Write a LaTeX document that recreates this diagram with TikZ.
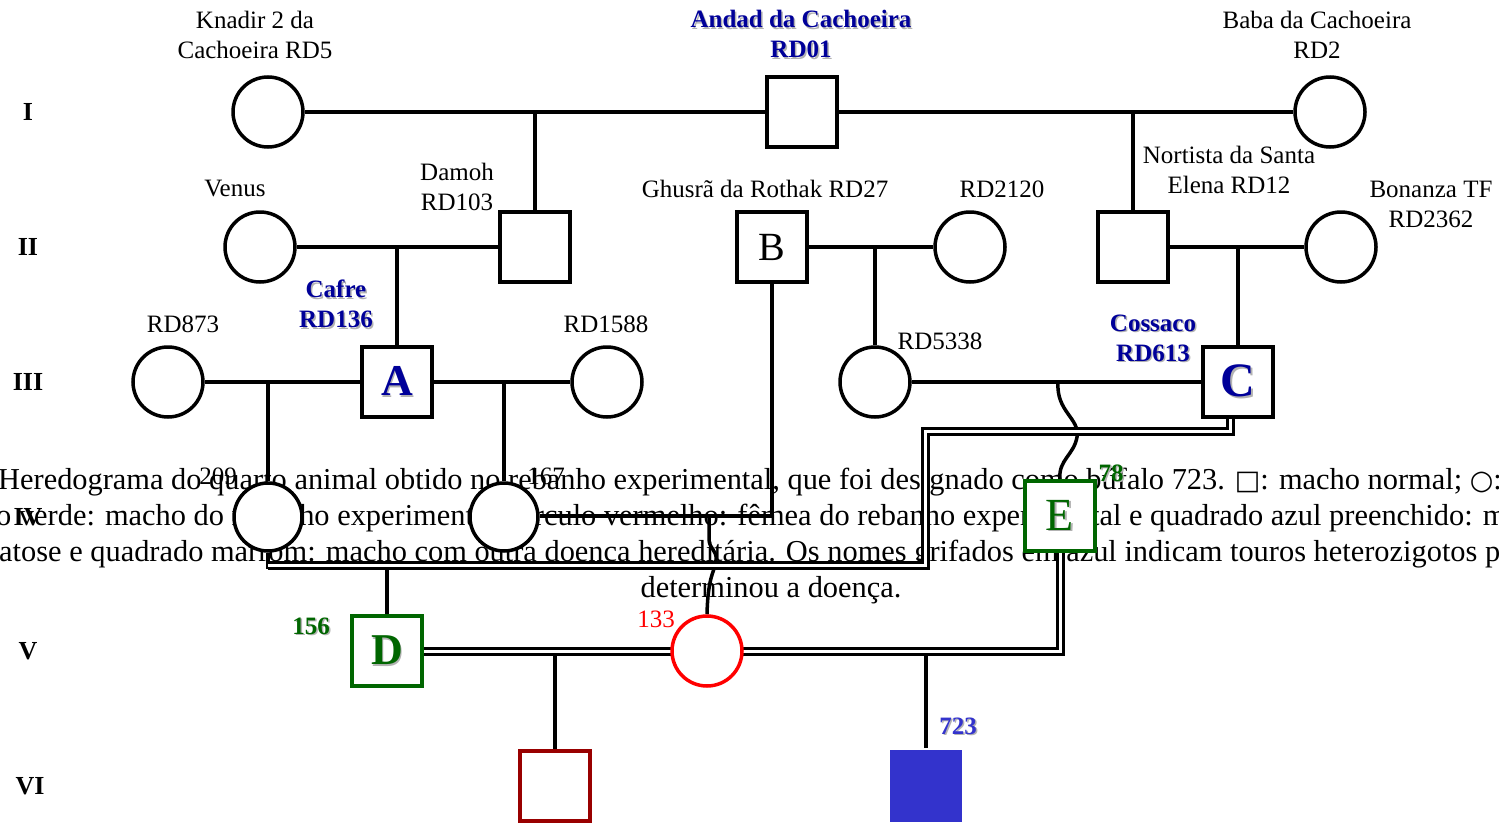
\documentclass[tikz,border=0pt]{standalone}
\usepackage{fontspec}
\setmainfont{Liberation Serif}
\newfontfamily\symfnt{DejaVu Sans}
\usetikzlibrary{calc}
\definecolor{navy}{RGB}{0,0,153}
\definecolor{blueff}{RGB}{51,51,204}
\definecolor{grn}{RGB}{0,102,0}
\definecolor{dred}{RGB}{153,0,0}
\newcommand{\shtxt}[1]{\leavevmode\rlap{\kern1.5pt\raisebox{-1.5pt}{\textcolor{black!30}{#1}}}#1}
\pgfdeclarelayer{captlayer}
\pgfdeclarelayer{bglayer}
\pgfsetlayers{captlayer,bglayer,main}
\begin{document}
\begin{tikzpicture}[x=1pt,y=-1pt,
  conn/.style={line width=3.5pt},
  dblline/.style={line width=3pt, double, double distance=3pt},
  sqnode/.style={draw, line width=3.5pt, minimum size=70pt, fill=white, inner sep=0pt},
  cinode/.style={draw, circle, line width=3.5pt, minimum size=70pt, fill=white, inner sep=0pt},
  lbl/.style={font=\fontsize{25}{30}\selectfont, align=center, inner sep=0pt},
  blbl/.style={font=\fontsize{25}{30}\selectfont\bfseries, align=center, inner sep=0pt},
  genlbl/.style={font=\fontsize{26}{30}\selectfont\bfseries, inner sep=0pt},
  captxt/.style={font=\fontsize{30.4}{36}\selectfont, inner sep=0pt, anchor=base west},
]
\useasboundingbox (0,0) rectangle (1499,822);

% caption (underneath everything)
\begin{pgfonlayer}{captlayer}
\node[captxt] (cap1) at (-2,489) {Heredograma do quarto animal obtido no rebanho experimental, que foi designado como búfalo 723. {\symfnt\fontsize{27}{30}\selectfont □}: macho normal; {\symfnt\fontsize{27}{30}\selectfont ○}: fêmea normal;};
\node[captxt] (cap2) at (-4,525) {o verde: macho do rebanho experimental; círculo vermelho: fêmea do rebanho experimental e quadrado azul preenchido: macho com};
\node[captxt] (cap3) at (-1,561) {atose e quadrado marrom: macho com outra doença hereditária. Os nomes grifados em azul indicam touros heterozigotos para o gene que};
\node[captxt, anchor=base] (cap4) at (771,597) {determinou a doença.};
\end{pgfonlayer}

% generation labels
\node[genlbl] (gI) at (28,112) {I};
\node[genlbl] (gII) at (28,247) {II};
\node[genlbl] (gIII) at (28,382) {III};
\node[genlbl] (gIV) at (28,517) {IV};
\node[genlbl] (gV) at (28,651) {V};
\node[genlbl] (gVI) at (30,786) {VI};

% individuals
\node[cinode] (knadir) at (268,112) {};
\node[sqnode] (andad) at (802,112) {};
\node[cinode] (baba) at (1330,112) {};
\node[cinode] (venus) at (260,247) {};
\node[sqnode] (damoh) at (535,247) {};
\node[sqnode, font=\fontsize{40}{40}\selectfont] (nB) at (772,247) {B};
\node[cinode] (rd2120) at (970,247) {};
\node[sqnode] (nortista) at (1133,247) {};
\node[cinode] (bonanza) at (1341,247) {};
\node[cinode] (rd873) at (168,382) {};
\node[sqnode, text=navy, font=\fontsize{44}{44}\selectfont\bfseries] (nA) at (397,382) {\shtxt{A}};
\node[cinode] (rd1588) at (607,382) {};
\node[cinode] (rd5338) at (875,382) {};
\node[sqnode, text=navy, font=\fontsize{48}{48}\selectfont\bfseries] (nC) at (1238,382) {\shtxt{C}};
\node[cinode, minimum size=68pt] (c209) at (268,517) {};
\node[cinode, minimum size=68pt] (c167) at (504,517) {};
\node[sqnode, draw=grn, text=grn, font=\fontsize{46}{46}\selectfont] (nE) at (1060,516) {\shtxt{E}};
\node[sqnode, draw=grn, text=grn, font=\fontsize{44}{44}\selectfont\bfseries] (nD) at (387,651) {\shtxt{D}};
\node[cinode, draw=red] (c133) at (707,651) {};
\node[sqnode, draw=dred] (rsq) at (555,786) {};
\node[sqnode, draw=none, fill=blueff, minimum size=72pt] (n723) at (926,786) {};

% name labels
\node[lbl] (tknadir) at (255,35) {Knadir 2 da\\Cachoeira RD5};
\node[blbl, text=navy] (tandad) at (801,35) {\shtxt{Andad da Cachoeira}\\\shtxt{RD01}};
\node[lbl] (tbaba) at (1317,35) {Baba da Cachoeira\\RD2};
\node[lbl] (tvenus) at (235,189) {Venus};
\node[lbl] (tdamoh) at (457,187) {Damoh\\RD103};
\node[lbl] (tghusra) at (765,189) {Ghusrã da Rothak RD27};
\node[lbl] (trd2120) at (1002,189) {RD2120};
\node[lbl] (tnortista) at (1229,170) {Nortista da Santa\\Elena RD12};
\node[lbl] (tbonanza) at (1431,204) {Bonanza TF\\RD2362};
\node[blbl, text=navy] (tcafre) at (336,305) {\shtxt{Cafre}\\\shtxt{RD136}};
\node[lbl] (trd873) at (183,324) {RD873};
\node[lbl] (trd1588) at (606,324) {RD1588};
\node[lbl] (trd5338) at (940,341) {RD5338};
\node[blbl, text=navy] (tcossaco) at (1153,339) {\shtxt{Cossaco}\\\shtxt{RD613}};
\node[lbl] (t209) at (218,476) {209};
\node[lbl] (t167) at (546,476) {167};
\node[blbl, text=grn] (t78) at (1111,474) {\shtxt{78}};
\node[blbl, text=grn] (t156) at (311,627) {\shtxt{156}};
\node[lbl, text=red] (t133) at (656,619) {133};
\node[blbl, text=blueff] (t723) at (958,727) {\shtxt{723}};

% junction points
\coordinate (k1) at (535,112);
\coordinate (k2) at (1133,112);
\coordinate (k3) at (397,247);
\coordinate (k4) at (875,247);
\coordinate (k5) at (1238,247);
\coordinate (k6) at (268,382);
\coordinate (k7) at (504,382);
\coordinate (k8) at (1058,382);
\coordinate (k9) at (772,516);
\coordinate (k10) at (709,516);
\coordinate (k11) at (387,569);
\coordinate (k12) at (555,656);
\coordinate (k13) at (926,656);
\coordinate (k14) at (268,565);

% connectors
\begin{pgfonlayer}{bglayer}
\draw[conn] (knadir) -- (andad);
\draw[conn] (andad) -- (baba);
\draw[conn] (k1) -- (damoh.north);
\draw[conn] (k2) -- (nortista.north);
\draw[conn] (venus) -- (damoh);
\draw[conn] (k3) -- (nA.north);
\draw[conn] (nB) -- (rd2120);
\draw[conn] (k4) -- (rd5338.north);
\draw[conn] (nortista) -- (bonanza);
\draw[conn] (k5) -- (nC.north);
\draw[conn] (rd873) -- (nA);
\draw[conn] (k6) -- (c209.north);
\draw[conn] (nA) -- (rd1588);
\draw[conn] (k7) -- (c167.north);
\draw[conn] (rd5338) -- (nC);
\draw[conn] (k8) .. controls (1056,412) and (1080,418) .. (1077,437) .. controls (1074,455) and (1058,460) .. (nE.north);
\draw[conn] (nB.south) -- (k9) -- (c167.east |- k9);
\draw[conn] (k10) -- (709,540) .. controls (710,550) and (717,550) .. (716,560) .. controls (715,572) and (708,574) .. (c133.north);
\draw[conn] (c209.south) -- ($(k14)+(0,4)$);
\draw[dblline] (k14) -- (925.5,565) |- (1230,431.5) -- ($(nC.center)+(-8,0)$);
\draw[conn] (k11) -- (nD.north);
\draw[dblline] (nD.center) -- (c133.center);
\draw[dblline] (c133.center) -| (nE.center);
\draw[conn] (k12) -- (rsq.north);
\draw[conn] (k13) -- (n723.north);
\end{pgfonlayer}
\end{tikzpicture}
\end{document}
